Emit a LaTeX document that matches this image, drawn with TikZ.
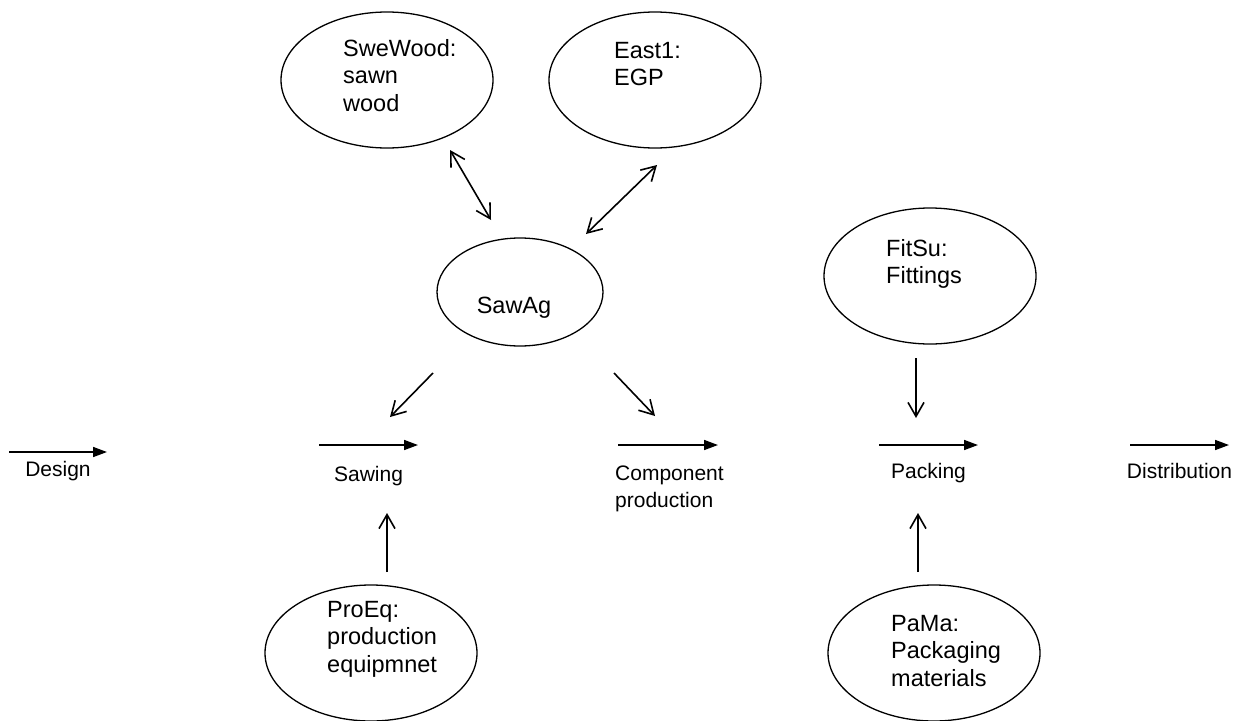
\documentclass[tikz,border=0pt]{standalone}
\usepackage{fontspec}
\setmainfont{Liberation Sans}
\usetikzlibrary{arrows.meta, calc, positioning, shapes.geometric}

\begin{document}
\begin{tikzpicture}[x=1pt, y=-1pt,
actor/.style = {draw, ellipse, line width=1.3pt,
                minimum width=212pt, minimum height=136pt, inner sep=0pt},
actortext/.style = {anchor=north west, inner sep=0pt, align=left,
                    font=\fontsize{23.5}{27.5}\selectfont},
stage/.style = {inner sep=0pt, align=left,
                font=\fontsize{21}{27}\selectfont},
flow/.style = {line width=1.6pt, -{Triangle[length=14pt,width=10pt]}},
link/.style = {line width=1.6pt, -{Straight Barb[length=14pt,width=16pt]}},
twoway/.style = {line width=1.6pt,
                 {Straight Barb[length=14pt,width=16pt]}-{Straight Barb[length=14pt,width=16pt]}},
                    ]
\useasboundingbox (0,0) rectangle (1241,720);
%---
\node (sweWood) [actor]     at (387,80)     {};
\node (east1)   [actor]     at (655,80)     {};
\node (sawAg)   [actor, minimum width=166pt, minimum height=108pt]
                            at (520,292)    {};
\node (fitSu)   [actor]     at (930,276)    {};
\node (proEq)   [actor]     at (371,653)    {};
\node (paMa)    [actor]     at (934,653)    {};
% texts in the ellipses
\node (sweWoodTxt) [actortext] at ([shift={(-44,-41)}]sweWood.center) {SweWood:\\sawn\\wood};
\node (east1Txt)   [actortext] at ([shift={(-41,-38)}]east1.center)   {East1:\\EGP};
\node (sawAgTxt)   [actortext, anchor=base] at ([shift={(-6,21)}]sawAg.center) {SawAg};
\node (fitSuTxt)   [actortext] at ([shift={(-44,-37)}]fitSu.center)   {FitSu:\\Fittings};
\node (proEqTxt)   [actortext] at ([shift={(-44,-52)}]proEq.center)   {ProEq:\\production\\equipmnet};
\node (paMaTxt)    [actortext] at ([shift={(-43,-38)}]paMa.center)    {PaMa:\\Packaging\\materials};
%-------
% process chain
\coordinate (designA)   at (9,452);     \coordinate (designB)   at (107,452);
\coordinate (sawingA)   at (319,445);   \coordinate (sawingB)   at (418,445);
\coordinate (compA)     at (618,445);   \coordinate (compB)     at (718,445);
\coordinate (packingA)  at (879,445);   \coordinate (packingB)  at (978,445);
\coordinate (distA)     at (1130,445);  \coordinate (distB)     at (1229,445);
\draw[flow] (designA)  -- (designB);
\draw[flow] (sawingA)  -- (sawingB);
\draw[flow] (compA)    -- (compB);
\draw[flow] (packingA) -- (packingB);
\draw[flow] (distA)    -- (distB);
%
\node (design)  [stage, below=9pt of $(designA)!0.5!(designB)$]     {Design};
\node (sawing)  [stage, below=21pt of $(sawingA)!0.5!(sawingB)$]    {Sawing};
\node (comp)    [stage, below right=21pt and -3pt of compA]         {Component\\production};
\node (packing) [stage, below=18pt of $(packingA)!0.5!(packingB)$]  {Packing};
\node (dist)    [stage, below=18pt of $(distA)!0.5!(distB)$]        {Distribution};
%-------
% links
\coordinate (swTop)   at (450,150);  \coordinate (swBot)   at (491,220);
\coordinate (e1Top)   at (657,165);  \coordinate (e1Bot)   at (586,234);
\coordinate (saLeft)  at (433,373);  \coordinate (saLeftE) at (390,417);
\coordinate (saRight) at (614,373);  \coordinate (saRightE) at (655,416);
\coordinate (fitA)    at (916,358);  \coordinate (fitB)    at (916,418);
\coordinate (proA)    at (387,572);  \coordinate (proB)    at (387,513);
\coordinate (paMaA)   at (918,572);  \coordinate (paMaB)   at (918,513);
\draw[twoway] (swTop) -- (swBot);
\draw[twoway] (e1Top) -- (e1Bot);
\draw[link] (saLeft)  -- (saLeftE);
\draw[link] (saRight) -- (saRightE);
\draw[link] (fitA)    -- (fitB);
\draw[link] (proA)    -- (proB);
\draw[link] (paMaA)   -- (paMaB);
\end{tikzpicture}
\end{document}
